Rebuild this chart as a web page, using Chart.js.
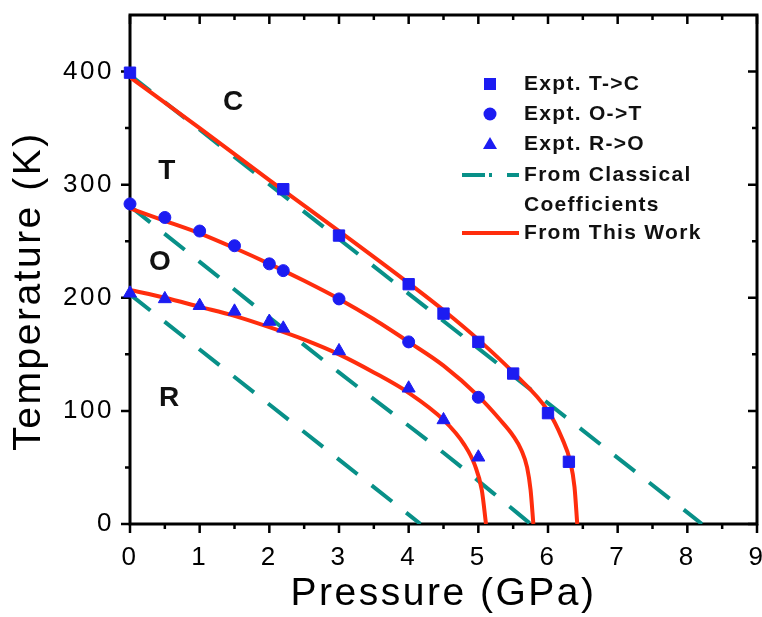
<!DOCTYPE html>
<html>
<head>
<meta charset="utf-8">
<title>Pressure - Temperature phase diagram</title>
<script src="https://cdn.jsdelivr.net/npm/chart.js@4.4.1/dist/chart.umd.min.js"></script>
<style>
  html, body { margin: 0; padding: 0; background: #fff; }
  #wrap { width: 762px; height: 617px; }
</style>
</head>
<body>
<div id="wrap"><canvas id="phaseChart" width="762" height="617"></canvas></div>
<script>
// ===============================================================
// Phase diagram: transition temperature vs pressure
// ===============================================================

// Palette
const BLUE = '#1c1cf2'; const RED = '#ff2d0d'; const TEAL = '#089088'; const INK = '#000';
const FONT = '"Liberation Sans", Arial, Helvetica, sans-serif';

// Experimental transition points (pressure in GPa, temperature in K)
const tcP = [0, 2.2, 3, 4, 4.5, 5, 5.5, 6, 6.3];
const tcT = [399, 296, 255, 212, 186, 161, 133, 98, 55];
const otP = [0, 0.5, 1, 1.5, 2, 2.2, 3, 4, 5];
const otT = [283, 271, 259, 246, 230, 224, 199, 161, 112];
const roP = [0, 0.5, 1, 1.5, 2, 2.2, 3, 4, 4.5, 5];
const roT = [204, 199, 193, 188, 179, 173, 153, 120, 92, 59];

// "From This Work" curves
const workTcP = [0, 1, 2, 3, 4, 4.5, 5, 5.5, 6, 6.2, 6.32, 6.38, 6.42];
const workTcT = [395, 350, 304, 259, 213, 189, 163, 134, 100, 76, 55, 33, 0];
const workOtP = [0, 0.5, 1, 1.5, 2, 2.5, 3, 3.5, 4, 4.5, 5, 5.3, 5.5, 5.62, 5.7, 5.75, 5.79];
const workOtT = [279, 268, 257, 244, 230, 215, 199, 181, 161, 140, 113, 93, 78, 65, 50, 30, 0];
const workRoP = [0, 0.5, 1, 1.5, 2, 2.5, 3, 3.5, 4, 4.5, 4.8, 4.95, 5.05, 5.11];
const workRoT = [207, 200, 192, 184, 174, 163, 150, 134, 116, 92, 70, 52, 30, 0];

// "From Classical Coefficients" lines (teal dashes)
const classTcP = [0, 8.21];
const classTcT = [397, 0];
const classOtP = [0, 3, 4.5, 5.2, 5.75];
const classOtT = [281, 134, 63, 28, 0];
const classRoP = [0, 4.17];
const classRoT = [203, 0];

// Phase names written inside the diagram
const regionNames = ['C', 'T', 'O', 'R'];
const regionP = [1.48, 0.53, 0.43, 0.56];
const regionT = [373, 312, 231, 111];

// Axis ticks
const xMajor = [0, 1, 2, 3, 4, 5, 6, 7, 8, 9];
const xMinor = [0.5, 1.5, 2.5, 3.5, 4.5, 5.5, 6.5, 7.5, 8.5];
const yMajor = [0, 100, 200, 300, 400];
const yMinor = [50, 150, 250, 350];

// Legend texts
const legendLabels = ['Expt. T->C', 'Expt. O->T', 'Expt. R->O', 'From Classical', 'Coefficients', 'From This Work'];

const pts = (xs, ys) => xs.map((x, i) => ({ x, y: ys[i] }));

function markerSet(label, xs, ys, style, radius) {
    return {
        label, data: pts(xs, ys), showLine: false, clip: false,
        pointStyle: style, pointRadius: radius, pointBackgroundColor: BLUE,
        pointBorderColor: BLUE, pointBorderWidth: 1
    };
}

function curveSet(label, xs, ys, color, dash) {
    return {
        label, data: pts(xs, ys), borderColor: color, borderWidth: 4,
        borderDash: dash || [], pointRadius: 0, fill: false,
        cubicInterpolationMode: 'monotone', borderCapStyle: 'butt', borderJoinStyle: 'round'
    };
}

// ------------------------------------------------------------
// Frame, ticks, phase letters, legend and y title
// ------------------------------------------------------------
function drawTicks(ctx, chart) {
    const { left, right, top, bottom } = chart.chartArea;
    const xs = chart.scales.x; const ys = chart.scales.y;
    ctx.save();
    ctx.strokeStyle = INK; ctx.lineWidth = 3;
    ctx.strokeRect(left, top, right - left, bottom - top);
    ctx.lineWidth = 2.5;
    ctx.beginPath();
    const xTick = (v, len) => {
        const px = xs.getPixelForValue(v);
        ctx.moveTo(px, bottom); ctx.lineTo(px, bottom + len);
        ctx.moveTo(px, top); ctx.lineTo(px, top + len);
    };
    const yTick = (v, len) => {
        const py = ys.getPixelForValue(v);
        ctx.moveTo(left, py); ctx.lineTo(left - len, py);
        ctx.moveTo(right, py); ctx.lineTo(right - len, py);
    };
    xMajor.forEach(v => xTick(v, 9)); xMinor.forEach(v => xTick(v, 5));
    yMajor.forEach(v => yTick(v, 9)); yMinor.forEach(v => yTick(v, 5));
    ctx.stroke();
    ctx.restore();
}

function drawLegend(ctx) {
    ctx.save();
    ctx.letterSpacing = '1.3px';
    ctx.font = `bold 21px ${FONT}`;
    ctx.textBaseline = 'middle'; ctx.textAlign = 'left';
    ctx.fillStyle = '#111';
    const rows = [84, 114, 144, 175, 205, 233];
    legendLabels.forEach((t, i) => ctx.fillText(t, 524, rows[i]));

    const mx = 490;
    ctx.fillStyle = BLUE;
    ctx.fillRect(mx - 6, rows[0] - 6, 12, 12);
    ctx.beginPath(); ctx.arc(mx, rows[1], 6.5, 0, Math.PI * 2); ctx.fill();
    ctx.beginPath();
    ctx.moveTo(mx, rows[2] - 7); ctx.lineTo(mx + 7, rows[2] + 5); ctx.lineTo(mx - 7, rows[2] + 5);
    ctx.closePath(); ctx.fill();

    ctx.lineWidth = 4;
    ctx.strokeStyle = TEAL;
    ctx.beginPath();
    ctx.moveTo(462, rows[3]); ctx.lineTo(485, rows[3]);
    ctx.moveTo(489, rows[3]); ctx.lineTo(492, rows[3]);
    ctx.moveTo(507, rows[3]); ctx.lineTo(519, rows[3]);
    ctx.stroke();
    ctx.strokeStyle = RED;
    ctx.beginPath(); ctx.moveTo(462, rows[5]); ctx.lineTo(519, rows[5]); ctx.stroke();
    ctx.restore();
}

const decorPlugin = {
    id: 'phaseDecor',
    beforeDraw(chart) { chart.ctx.letterSpacing = '2.5px'; },
    beforeDatasetsDraw(chart) { drawTicks(chart.ctx, chart); },
    afterDraw(chart) {
        const ctx = chart.ctx;
        const xs = chart.scales.x; const ys = chart.scales.y;

        // Phase letters
        ctx.save();
        ctx.letterSpacing = '0px';
        ctx.font = `bold 28px ${FONT}`;
        ctx.fillStyle = '#111'; ctx.textAlign = 'center'; ctx.textBaseline = 'middle';
        regionNames.forEach((n, i) => ctx.fillText(n, xs.getPixelForValue(regionP[i]), ys.getPixelForValue(regionT[i])));
        ctx.restore();

        drawLegend(ctx);

        // Y axis title (rotated, a bit below centre like the original)
        ctx.save();
        ctx.letterSpacing = '2.5px';
        ctx.font = `39px ${FONT}`;
        ctx.fillStyle = INK; ctx.textAlign = 'center'; ctx.textBaseline = 'middle';
        ctx.translate(29.5, 291);
        ctx.rotate(-Math.PI / 2);
        ctx.fillText('Temperature (K)', 0, 0);
        ctx.restore();

        ctx.letterSpacing = '0px';
    }
};

new Chart(document.getElementById('phaseChart'), {
    type: 'line',
    data: {
        datasets: [
            markerSet('Expt. T->C', tcP, tcT, 'rect', 8),
            markerSet('Expt. O->T', otP, otT, 'circle', 6),
            markerSet('Expt. R->O', roP, roT, 'triangle', 7.5),
            curveSet('From This Work T-C', workTcP, workTcT, RED),
            curveSet('From This Work O-T', workOtP, workOtT, RED),
            curveSet('From This Work R-O', workRoP, workRoT, RED),
            curveSet('Classical T-C', classTcP, classTcT, TEAL, [26, 18]),
            curveSet('Classical O-T', classOtP, classOtT, TEAL, [26, 18]),
            curveSet('Classical R-O', classRoP, classRoT, TEAL, [26, 18])
        ]
    },
    options: {
        responsive: false,
        animation: false,
        events: [],
        layout: { autoPadding: false, padding: { top: 15, right: 5, left: 0, bottom: 0 } },
        plugins: { legend: { display: false }, tooltip: { enabled: false } },
        scales: {
            x: {
                type: 'linear', min: 0, max: 9,
                afterBuildTicks: s => { s.ticks = xMajor.map(v => ({ value: v })); },
                afterFit: s => { s.height = 93; s.paddingLeft = 0; s.paddingRight = 0; },
                ticks: { color: INK, font: { family: FONT, size: 26, lineHeight: 1 }, padding: 21, maxRotation: 0, autoSkip: false },
                grid: { display: false, drawTicks: false },
                border: { display: false },
                title: { display: true, text: 'Pressure (GPa)', color: INK, font: { family: FONT, size: 39, lineHeight: 1 }, padding: { top: 0, bottom: 3 } }
            },
            y: {
                type: 'linear', min: 0, max: 450,
                afterBuildTicks: s => { s.ticks = yMajor.map(v => ({ value: v })); },
                afterFit: s => { s.width = 130; s.paddingTop = 0; s.paddingBottom = 0; },
                ticks: { color: INK, font: { family: FONT, size: 26, lineHeight: 1 }, padding: 16 },
                grid: { display: false, drawTicks: false },
                border: { display: false }
            }
        }
    },
    plugins: [decorPlugin]
});
</script>
</body>
</html>
